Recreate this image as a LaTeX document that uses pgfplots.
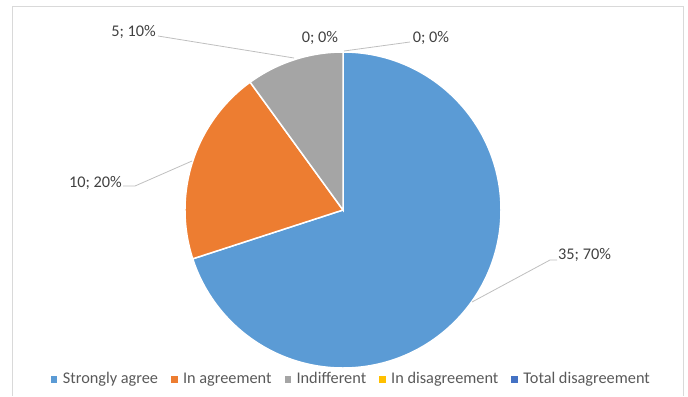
\documentclass[border=0pt]{standalone}
\usepackage{pgfplots}
\usepackage{pgfplotstable}
\pgfplotsset{compat=1.18}
\usepackage{fontspec}
\setmainfont{Carlito}
\definecolor{cA}{HTML}{5B9BD5}
\definecolor{cB}{HTML}{ED7D31}
\definecolor{cC}{HTML}{A5A5A5}
\definecolor{cD}{HTML}{FFC000}
\definecolor{cE}{HTML}{4472C4}
\definecolor{lbl}{HTML}{404040}
\definecolor{leg}{HTML}{595959}
\definecolor{frame}{HTML}{D9D9D9}
\definecolor{leader}{HTML}{BFBFBF}
\pgfplotstableread{
label value
A 35
B 10
C 5
D 0
E 0
}\piedata
\begin{document}
\begin{tikzpicture}
\pgfplotstablegetelem{0}{value}\of\piedata \let\vA\pgfplotsretval
\pgfplotstablegetelem{1}{value}\of\piedata \let\vB\pgfplotsretval
\pgfplotstablegetelem{2}{value}\of\piedata \let\vC\pgfplotsretval
\pgfplotstablegetelem{3}{value}\of\piedata \let\vD\pgfplotsretval
\pgfplotstablegetelem{4}{value}\of\piedata \let\vE\pgfplotsretval
\pgfmathsetmacro{\tot}{\vA+\vB+\vC+\vD+\vE}
\pgfmathsetmacro{\aA}{90}
\pgfmathsetmacro{\aB}{\aA-360*\vA/\tot}
\pgfmathsetmacro{\aC}{\aB-360*\vB/\tot}
\pgfmathsetmacro{\aD}{\aC-360*\vC/\tot}
\pgfmathsetmacro{\aE}{\aD-360*\vD/\tot}
\pgfmathsetmacro{\aF}{\aE-360*\vE/\tot}
\begin{axis}[
  scale only axis, width=688pt, height=396pt,
  xmin=0, xmax=688, ymin=0, ymax=396, y dir=reverse,
  axis lines=none, clip=false,
  font=\fontsize{16.3}{19}\selectfont,
  legend style={draw=none, fill=none, at={(0.510,0.043)}, anchor=center,
    legend columns=-1, font=\fontsize{16.3}{19}\selectfont\color{leg},
    nodes={inner sep=1pt},
    /tikz/every odd column/.append style={column sep=5pt},
    /tikz/every even column/.append style={column sep=12pt}},
  legend image code/.code={\fill[#1] (0pt,-2.8pt) rectangle (5.6pt,2.8pt);},
]
\path (axis cs:0,0) rectangle (axis cs:688,396);
\draw[frame, line width=1pt] (axis cs:12.5,396) -- (axis cs:12.5,6.5) -- (axis cs:683.5,6.5) -- (axis cs:683.5,396);
\fill[cA, draw=white, line width=1.5pt] (axis cs:343,210) -- ++(\aA:158pt) arc[start angle=\aA, end angle=\aB, radius=158pt] -- cycle;
\fill[cB, draw=white, line width=1.5pt] (axis cs:343,210) -- ++(\aB:158pt) arc[start angle=\aB, end angle=\aC, radius=158pt] -- cycle;
\fill[cC, draw=white, line width=1.5pt] (axis cs:343,210) -- ++(\aC:158pt) arc[start angle=\aC, end angle=\aD, radius=158pt] -- cycle;
% leader lines
\draw[leader, line width=0.8pt] (axis cs:472,302) -- (axis cs:550,260) -- (axis cs:557,260);
\draw[leader, line width=0.8pt] (axis cs:192,161) -- (axis cs:135,186) -- (axis cs:123,186);
\draw[leader, line width=0.8pt] (axis cs:294,58) -- (axis cs:158,36);
\draw[leader, line width=0.8pt] (axis cs:344,51) -- (axis cs:410,42);
% labels
\node[lbl, anchor=west, inner sep=0pt] at (axis cs:558,255) {35; 70\%};
\node[lbl, anchor=east, inner sep=0pt] at (axis cs:122,183) {10; 20\%};
\node[lbl, anchor=east, inner sep=0pt] at (axis cs:156,32) {5; 10\%};
\node[lbl, anchor=center, inner sep=0pt] at (axis cs:320,38) {0; 0\%};
\node[lbl, anchor=center, inner sep=0pt] at (axis cs:431,38) {0; 0\%};
\addlegendimage{cA}
\addlegendentry{Strongly agree}
\addlegendimage{cB}
\addlegendentry{In agreement}
\addlegendimage{cC}
\addlegendentry{Indifferent}
\addlegendimage{cD}
\addlegendentry{In disagreement}
\addlegendimage{cE}
\addlegendentry{Total disagreement}
\end{axis}
\end{tikzpicture}
\end{document}
